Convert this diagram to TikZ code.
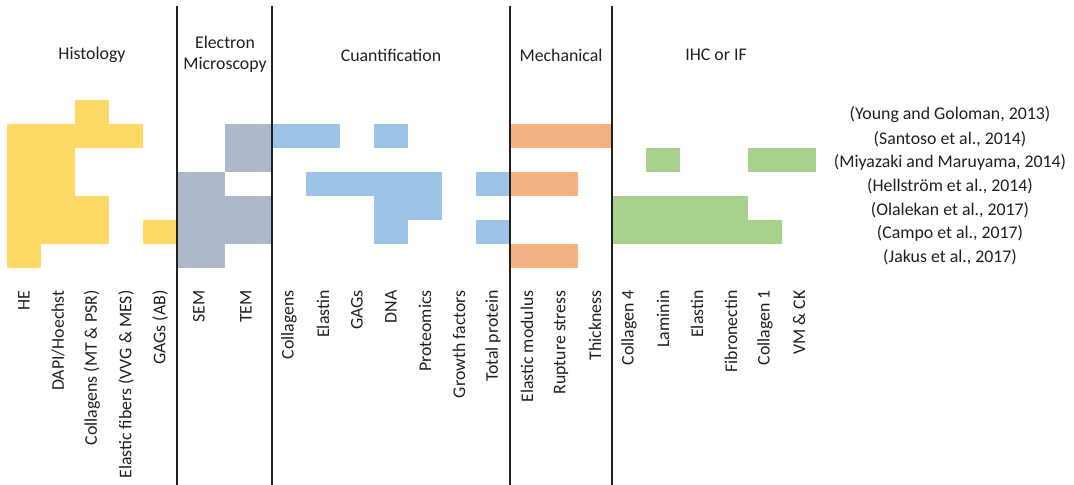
\documentclass[tikz,border=0pt]{standalone}
\usepackage{fontspec}
\setmainfont{Carlito}
\usepackage{tikz}
\usepackage{xcolor}

\definecolor{histo}{HTML}{FFD966}
\definecolor{elmic}{HTML}{ADB9CA}
\definecolor{quant}{HTML}{9DC3E6}
\definecolor{mech}{HTML}{F4B183}
\definecolor{ihc}{HTML}{A9D18E}
\definecolor{ink}{HTML}{202020}

\begin{document}
\begin{tikzpicture}[x=0.5pt,y=-0.5pt,font=\fontsize{8.9}{10.6}\selectfont,text=ink,
    sep/.style={draw=ink,line width=1pt},
    head/.style={align=center,inner sep=0pt},
    col/.style={rotate=90,anchor=east,inner sep=0pt},
    ref/.style={inner sep=0pt}]

    \useasboundingbox (0,0) rectangle (1074,485);

    % histology
    \fill[histo] (75,100) rectangle (109,124);
    \fill[histo] (7,124) rectangle (143,148);
    \fill[histo] (7,148) rectangle (75,196);
    \fill[histo] (7,196) rectangle (109,244);
    \fill[histo] (143,220) rectangle (177,244);
    \fill[histo] (7,244) rectangle (41,268);

    % electron microscopy
    \fill[elmic] (225,124) rectangle (272,172);
    \fill[elmic] (177,172) rectangle (225,268);
    \fill[elmic] (225,196) rectangle (272,244);

    % cuantification
    \fill[quant] (272,124) rectangle (340,148);
    \fill[quant] (374,124) rectangle (408,148);
    \fill[quant] (306,172) rectangle (442,196);
    \fill[quant] (476,172) rectangle (510,196);
    \fill[quant] (374,196) rectangle (442,220);
    \fill[quant] (374,220) rectangle (408,244);
    \fill[quant] (476,220) rectangle (510,244);

    % mechanical
    \fill[mech] (510,124) rectangle (612,148);
    \fill[mech] (510,172) rectangle (578,196);
    \fill[mech] (510,244) rectangle (578,268);

    % IHC or IF
    \fill[ihc] (646,148) rectangle (680,172);
    \fill[ihc] (748,148) rectangle (816,172);
    \fill[ihc] (612,196) rectangle (748,220);
    \fill[ihc] (612,220) rectangle (782,244);

    % separators
    \draw[sep] (177,6) -- (177,485);
    \draw[sep] (272,6) -- (272,485);
    \draw[sep] (510,6) -- (510,485);
    \draw[sep] (612,6) -- (612,485);

    % headers
    \node[head] (hist) at (92,55) {Histology};
    \node[head] (em) at (225,54) {Electron\\Microscopy};
    \node[head] (cuant) at (391,55) {Cuantification};
    \node[head] (mec) at (561,55) {Mechanical};
    \node[head] (ihcif) at (716,55) {IHC or IF};

    % columns
    \node[col] (c1) at (24,290) {HE};
    \node[col] (c2) at (58,290) {DAPI/Hoechst};
    \node[col] (c3) at (92,290) {Collagens (MT \& PSR)};
    \node[col] (c4) at (126,290) {Elastic fibers (VVG \& MES)};
    \node[col] (c5) at (160,290) {GAGs (AB)};
    \node[col] (c6) at (199,290) {SEM};
    \node[col] (c7) at (246,290) {TEM};
    \node[col] (c8) at (289,290) {Collagens};
    \node[col] (c9) at (323,290) {Elastin};
    \node[col] (c10) at (357,290) {GAGs};
    \node[col] (c11) at (391,290) {DNA};
    \node[col] (c12) at (425,290) {Proteomics};
    \node[col] (c13) at (459,290) {Growth factors};
    \node[col] (c14) at (493,290) {Total protein};
    \node[col] (c15) at (527,290) {Elastic modulus};
    \node[col] (c16) at (561,290) {Rupture stress};
    \node[col] (c17) at (595,290) {Thickness};
    \node[col] (c18) at (629,290) {Collagen 4};
    \node[col] (c19) at (663,290) {Laminin};
    \node[col] (c20) at (697,290) {Elastin};
    \node[col] (c21) at (731,290) {Fibronectin};
    \node[col] (c22) at (765,290) {Collagen 1};
    \node[col] (c23) at (799,290) {VM \& CK};

    % references
    \node[ref] (r1) at (950,115) {(Young and Goloman, 2013)};
    \node[ref] (r2) at (950,139) {(Santoso et al., 2014)};
    \node[ref] (r3) at (950,162) {(Miyazaki and Maruyama, 2014)};
    \node[ref] (r4) at (950,186) {(Hellström et al., 2014)};
    \node[ref] (r5) at (950,210) {(Olalekan et al., 2017)};
    \node[ref] (r6) at (950,233) {(Campo et al., 2017)};
    \node[ref] (r7) at (950,257) {(Jakus et al., 2017)};
\end{tikzpicture}
\end{document}
